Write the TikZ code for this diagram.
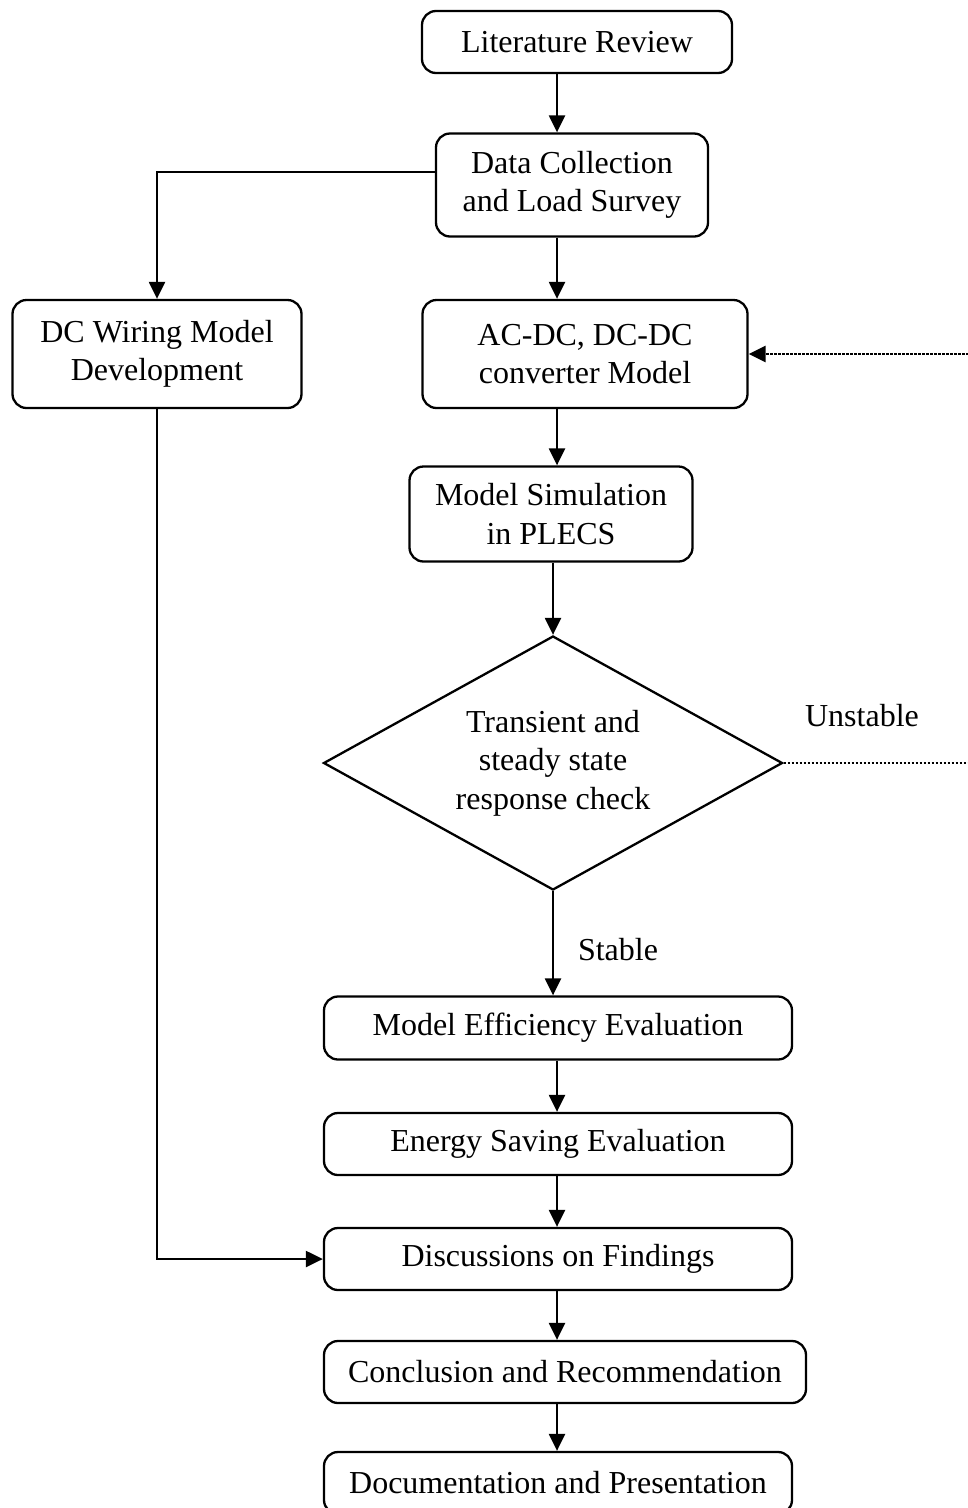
\documentclass[tikz,border=0pt]{standalone}
\usepackage{fontspec}
\setmainfont{Liberation Serif}
\usetikzlibrary{shapes.geometric,arrows.meta}
\begin{document}
\begin{tikzpicture}[x=1pt,y=-1pt,
  txt/.style={font=\fontsize{32}{38.5}\selectfont},
  box/.style={txt,draw,line width=2.3pt,rounded corners=14pt,inner sep=0pt,align=center},
  dec/.style={txt,draw,line width=2.3pt,shape=diamond,aspect=1.8,inner sep=0pt,align=center,
    minimum width=459pt,minimum height=254pt},
  tip/.style={-{Triangle[length=17pt,width=16pt]}},
  arr/.style={line width=2.3pt,tip},
  dotline/.style={line width=2.6pt,dash pattern=on 2.2pt off 1.8pt}]
\useasboundingbox (0,0) rectangle (967,1508);
\coordinate (mx) at (557,0);
\coordinate (ly) at (0,172);

\node[box,minimum width=310pt,minimum height=62pt] (lit) at (577,42) {Literature Review};
\node[box,minimum width=272pt,minimum height=103pt] (data) at (572,185) {Data Collection\\and Load Survey};
\node[box,minimum width=289pt,minimum height=108pt] (dcw) at (157,354) {DC Wiring Model\\Development};
\node[box,minimum width=325pt,minimum height=108pt] (ac) at (585,354) {AC-DC, DC-DC\\converter Model};
\node[box,minimum width=283pt,minimum height=95pt] (sim) at (551,514) {Model Simulation\\in PLECS};
\node[dec] (dia) at (553,763) {Transient and\\steady state\\response check};
\node[box,minimum width=468pt,minimum height=63pt] (eff) at (558,1028) {Model Efficiency Evaluation};
\node[box,minimum width=468pt,minimum height=62pt] (en) at (558,1144) {Energy Saving Evaluation};
\node[box,minimum width=468pt,minimum height=62pt] (disc) at (558,1259) {Discussions on Findings};
\node[box,minimum width=482pt,minimum height=62pt] (con) at (565,1372) {Conclusion and Recommendation};
\node[box,minimum width=468pt,minimum height=62pt] (doc) at (558,1483) {Documentation and Presentation};

\node[txt] (unst) at (862,716) {Unstable};
\node[txt] (stab) at (618,950) {Stable};

\draw[arr] (lit.south -| mx) -- (data.north -| mx);
\draw[arr] (data.south -| mx) -- (ac.north -| mx);
\draw[arr] (data.west |- ly) -| (dcw.north);
\draw[arr] (ac.south -| mx) -- (sim.north -| mx);
\draw[arr] (sim.south -| dia.north) -- (dia.north);
\draw[arr] (dia.south) -- (eff.north -| dia.south);
\draw[arr] (eff.south -| mx) -- (en.north -| mx);
\draw[arr] (en.south -| mx) -- (disc.north -| mx);
\draw[arr] (disc.south -| mx) -- (con.north -| mx);
\draw[arr] (con.south -| mx) -- (doc.north -| mx);
\draw[arr] (dcw.south) |- (disc.west);
\draw[dotline,tip] (dia.east) -- ++(192,0) |- (ac.east);
\end{tikzpicture}
\end{document}
